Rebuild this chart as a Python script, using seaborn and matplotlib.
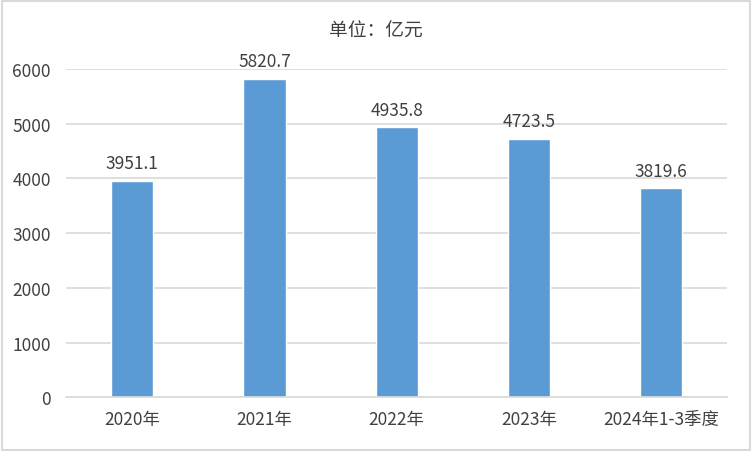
import matplotlib
matplotlib.use("Agg")
import matplotlib.pyplot as plt
import pandas as pd
import seaborn as sns
from matplotlib.patches import Rectangle

categories = ["2020年", "2021年", "2022年", "2023年", "2024年1-3季度"]
values = [3951.1, 5820.7, 4935.8, 4723.5, 3819.6]
y_ticks = [0, 1000, 2000, 3000, 4000, 5000, 6000]
title = "单位：亿元"

sns.set_theme(style="white")
plt.rcParams["font.family"] = ["Noto Sans CJK SC", "DejaVu Sans"]

text_color = "#404040"
bar_color = "#5B9BD5"
grid_color = "#D9D9D9"

df = pd.DataFrame({"category": categories, "value": values})

fig = plt.figure(figsize=(7.52, 4.52), dpi=100)
ax = fig.add_axes([0.088, 0.119, 0.879, 0.726])

sns.barplot(data=df, x="category", y="value", color=bar_color, width=0.32,
            saturation=1, ax=ax)

for i, v in enumerate(values):
    ax.text(i, v + 160, f"{v:.1f}", ha="center", va="bottom",
            fontsize=12.5, color=text_color)

ax.set_ylim(0, 6000)
ax.set_yticks(y_ticks)
ax.set_yticklabels([str(t) for t in y_ticks])
ax.set_xlim(-0.5, len(categories) - 0.5)
ax.yaxis.grid(True, color=grid_color, linewidth=1.2)
ax.set_axisbelow(True)
for side in ["left", "right", "top"]:
    ax.spines[side].set_visible(False)
ax.spines["bottom"].set_color(grid_color)
ax.spines["bottom"].set_linewidth(1.2)
ax.tick_params(axis="both", length=0, labelsize=12.5, labelcolor=text_color)
ax.tick_params(axis="x", pad=9)
ax.tick_params(axis="y", pad=11)
ax.set_xlabel("")
ax.set_ylabel("")

fig.text(0.5, 0.932, title, ha="center", va="center", fontsize=13.5,
         color=text_color)
fig.patches.append(Rectangle((0.002, 0.003), 0.995, 0.993, transform=fig.transFigure,
                             fill=False, edgecolor="#D9D9D9", linewidth=1.5))

fig.savefig("out.png", dpi=100, facecolor="white")
